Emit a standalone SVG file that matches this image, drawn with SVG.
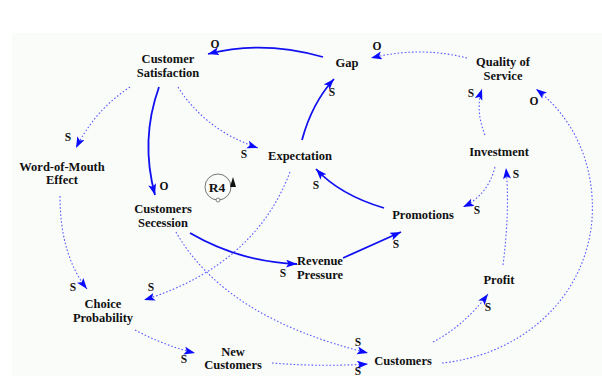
<svg xmlns="http://www.w3.org/2000/svg" width="602" height="376" viewBox="0 0 602 376">
<defs>
<style>
.n{font-family:"Liberation Serif","Times New Roman",serif;font-weight:bold;font-size:12.5px;fill:#111;text-anchor:middle}
.l{font-family:"Liberation Serif","Times New Roman",serif;font-weight:bold;font-size:11.5px;fill:#111;text-anchor:middle}
.s{fill:none;stroke:#1010f0;stroke-width:1.8;marker-end:url(#ah)}
.d{fill:none;stroke:#5a5aff;stroke-width:1.1;stroke-dasharray:1.6 2;marker-end:url(#ah)}
</style>
<marker id="ah" markerUnits="userSpaceOnUse" markerWidth="12" markerHeight="9" refX="11" refY="4" orient="auto">
<path d="M0,0 L11,4 L0,8 L2.5,4 z" fill="#0a0aff"/>
</marker>
</defs>
<rect x="0" y="0" width="602" height="376" fill="#ffffff"/>
<rect x="12" y="33" width="590" height="343" fill="#fafcfa"/>
<g id="connectors">
<path class="s" d="M323,57 Q262,40 208,54"/>
<path class="d" d="M467,58 Q420,46 371,58"/>
<path class="s" d="M302,140 Q312,103 334,79"/>
<path class="d" d="M485,135 Q475,110 482,89"/>
<path class="d" d="M442,363 C520,355 585,300 592,220 C596,160 570,115 536,89"/>
<path class="d" d="M130,87 Q95,110 76,148"/>
<path class="s" d="M159,87 Q140,140 155,195"/>
<path class="d" d="M178,87 Q205,130 258,148"/>
<path class="d" d="M60,196 Q60,255 87,289"/>
<path class="d" d="M290,172 Q255,265 144,300"/>
<path class="s" d="M190,233 Q240,262 297,264"/>
<path class="d" d="M176,232 Q225,318 368,353"/>
<path class="s" d="M343,258 Q370,246 401,232"/>
<path class="s" d="M384,208 Q340,195 316,169"/>
<path class="d" d="M495,167 Q488,195 463,207"/>
<path class="d" d="M503,265 Q510,210 506,168"/>
<path class="d" d="M433,342 Q465,325 488,294"/>
<path class="d" d="M135,330 Q165,346 195,353"/>
<path class="d" d="M272,363 Q320,367 368,364"/>
</g>
<g id="link-labels">
<text class="l" x="215" y="48">O</text>
<text class="l" x="377" y="50">O</text>
<text class="l" x="332" y="96">S</text>
<text class="l" x="471" y="97">S</text>
<text class="l" x="534" y="105">O</text>
<text class="l" x="68" y="141">S</text>
<text class="l" x="164" y="190">O</text>
<text class="l" x="244" y="158">S</text>
<text class="l" x="73" y="291">S</text>
<text class="l" x="151" y="291">S</text>
<text class="l" x="283" y="277">S</text>
<text class="l" x="358" y="346">S</text>
<text class="l" x="396" y="248">S</text>
<text class="l" x="316" y="189">S</text>
<text class="l" x="477" y="214">S</text>
<text class="l" x="516" y="178">S</text>
<text class="l" x="488" y="311">S</text>
<text class="l" x="184" y="363">S</text>
<text class="l" x="358" y="375">S</text>
</g>
<g id="customer-satisfaction"><text class="n" x="168" y="63">Customer</text><text class="n" x="168" y="77">Satisfaction</text></g>
<g id="gap"><text class="n" x="347" y="67">Gap</text></g>
<g id="quality-of-service"><text class="n" x="503" y="66">Quality of</text><text class="n" x="503" y="80">Service</text></g>
<g id="word-of-mouth"><text class="n" x="62" y="171">Word-of-Mouth</text><text class="n" x="62" y="184">Effect</text></g>
<g id="expectation"><text class="n" x="300" y="160">Expectation</text></g>
<g id="investment"><text class="n" x="499" y="156">Investment</text></g>
<g id="customers-secession"><text class="n" x="163" y="213">Customers</text><text class="n" x="163" y="227">Secession</text></g>
<g id="promotions"><text class="n" x="423" y="219">Promotions</text></g>
<g id="revenue-pressure"><text class="n" x="320" y="265">Revenue</text><text class="n" x="320" y="279">Pressure</text></g>
<g id="profit"><text class="n" x="499" y="284">Profit</text></g>
<g id="choice-probability"><text class="n" x="103" y="308">Choice</text><text class="n" x="103" y="322">Probability</text></g>
<g id="new-customers"><text class="n" x="233" y="356">New</text><text class="n" x="233" y="369">Customers</text></g>
<g id="customers"><text class="n" x="403" y="365">Customers</text></g>
<g id="r4">
<circle cx="218" cy="187" r="13" fill="none" stroke="#666" stroke-width="0.9"/>
<circle cx="218" cy="200" r="2" fill="#fafcfa" stroke="#666" stroke-width="0.8"/>
<path d="M230,187 L233,177 L236,187 z" fill="#111"/>
<text x="217" y="192" font-family="Liberation Serif, serif" font-weight="bold" font-size="13.5" text-anchor="middle" fill="#111">R4</text>
</g>
</svg>
